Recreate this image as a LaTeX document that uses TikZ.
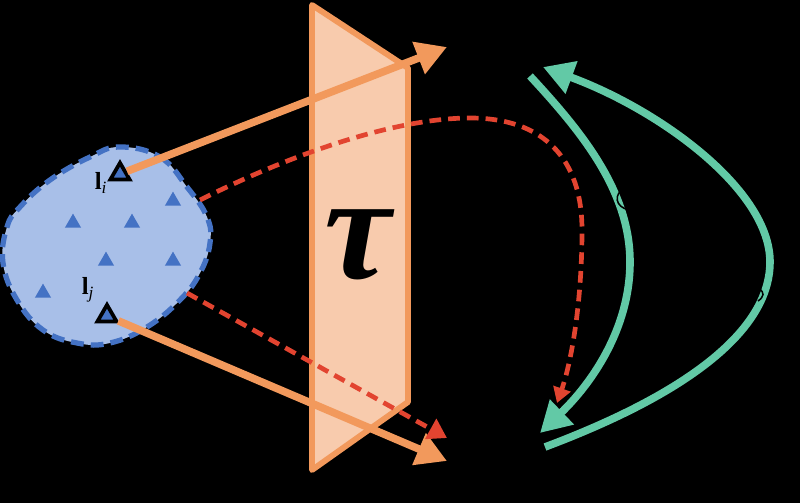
\documentclass[tikz,border=0pt]{standalone}
\usepackage{fontspec}
\newfontfamily\taufont{Liberation Serif}
\usetikzlibrary{arrows.meta,shapes.geometric}
\definecolor{blobfill}{RGB}{168,191,232}
\definecolor{blobline}{RGB}{68,114,196}
\definecolor{planefill}{RGB}{248,203,173}
\definecolor{planeline}{RGB}{242,153,92}
\definecolor{dashred}{RGB}{226,68,48}
\definecolor{arcteal}{RGB}{98,201,166}
\begin{document}
\begin{tikzpicture}[x=0.03cm,y=-0.03cm,
  pointtri/.style={regular polygon,regular polygon sides=3,fill=blobline,inner sep=0pt,minimum size=16pt},
  keytri/.style={regular polygon,regular polygon sides=3,draw=black,line width=3.2pt,fill=blobline,inner sep=0pt,minimum size=19pt},
  planearrow/.style={draw=planeline,line width=6.5pt,-{Triangle[length=26pt,width=28pt]}},
  redarrow/.style={draw=dashred,line width=4pt,dash pattern=on 10pt off 6pt},
  tealarrow/.style={draw=arcteal,line width=6.5pt,-{Triangle[length=26pt,width=28pt]}}]
\useasboundingbox (0,0) rectangle (800,503);
\fill[black] (0,0) rectangle (800,503);
\draw[draw=blobline,fill=blobfill,line width=4.5pt,dash pattern=on 11pt off 6pt] plot[smooth cycle,tension=0.7] coordinates {(120,147) (160,157) (187,187) (207,217) (210,243) (200,273) (180,300) (147,327) (110,343) (77,343) (43,330) (17,300) (3,263) (7,227) (20,207) (50,180) (90,157)};
\foreach \px/\py [count=\k] in {173/201,73/223,132/223,106/261,173/261,43/293}
  \node[pointtri] (pt\k) at (\px,\py) {};
\node[keytri] (li) at (120,174) {};
\node[keytri] (lj) at (107,316) {};
\node[font=\taufont\fontsize{21}{21}\selectfont] (labi) at (101,183) {\textbf{l}\textsubscript{\itshape i}};
\node[font=\taufont\fontsize{21}{21}\selectfont] (labj) at (88,290) {\textbf{l}\textsubscript{\itshape j}};
\draw[draw=planeline,fill=planefill,line width=5pt,line join=round] (312,5) -- (408,68) -- (408,402) -- (312,470) -- cycle;
\node[font=\taufont\bfseries\itshape\fontsize{128}{128}\selectfont] (tau) at (358,245) {τ};
\coordinate (tipi) at (447,47);
\coordinate (tipj) at (447,461);
\draw[planearrow] (li) -- (tipi);
\draw[planearrow] (lj) -- (tipj);
\coordinate (inA) at (530,76);
\coordinate (inB) at (540,433);
\coordinate (outA) at (545,447);
\coordinate (outB) at (543,67);
\draw[tealarrow] (inA) .. controls (580,130) and (630,190) .. (630,262) .. controls (630,330) and (590,385) .. (inB);
\draw[tealarrow] (outA) .. controls (710,385) and (770,320) .. (770,262) .. controls (770,190) and (660,110) .. (outB);
\draw[line width=1.3pt] (625,188) .. controls (613,194) and (615,207) .. (629,210);
\draw[line width=1.3pt] (759,289) .. controls (765,292) and (764,297) .. (758,301);
\coordinate (rdA) at (187,293);
\coordinate (rdB) at (447,438);
\draw[redarrow,-{Triangle[length=16pt,width=19pt]}] (rdA) -- (rdB);
\coordinate (ruA) at (200,200);
\coordinate (ruB) at (557,403);
\draw[redarrow,-{Triangle[length=13pt,width=15pt]}] (ruA) .. controls (300,150) and (400,118) .. (470,118) .. controls (545,118) and (582,160) .. (582,230) .. controls (582,300) and (572,360) .. (ruB);
\end{tikzpicture}
\end{document}
